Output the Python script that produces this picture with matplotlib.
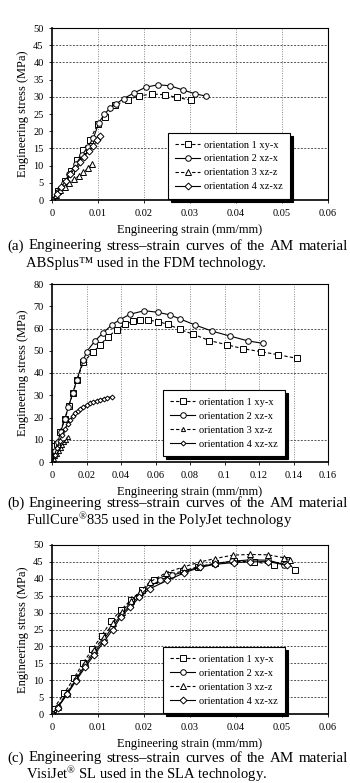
import matplotlib
matplotlib.use("Agg")
import matplotlib.pyplot as plt
from matplotlib.ticker import FormatStrFormatter

plt.rcParams["font.family"] = ["Liberation Serif", "DejaVu Serif"]
plt.rcParams["mathtext.fontset"] = "custom"
plt.rcParams["mathtext.rm"] = "Liberation Serif"
plt.rcParams["mathtext.it"] = "Liberation Serif"

LABELS = ["orientation 1 xy-x", "orientation 2 xz-x",
          "orientation 3 xz-z", "orientation 4 xz-xz"]

# (a) ABSplus, FDM
A_STRAIN_1 = [0, 0.0012, 0.0028, 0.0042, 0.0055, 0.0068, 0.0082, 0.0100, 0.0115,
              0.0138, 0.0165, 0.0190, 0.0218, 0.0245, 0.0272, 0.0303]
A_STRESS_1 = [0, 2.5, 5.5, 8.5, 11.5, 14.5, 17.5, 22.0, 24.0, 27.6, 29.2, 30.3,
              30.8, 30.6, 29.8, 29.0]
A_STRAIN_2 = [0, 0.0012, 0.0025, 0.0038, 0.0052, 0.0065, 0.0078, 0.0090, 0.0102,
              0.0114, 0.0127, 0.0140, 0.0156, 0.0178, 0.0204, 0.0231, 0.0257,
              0.0284, 0.0311, 0.0334]
A_STRESS_2 = [0, 2.3, 4.8, 7.5, 10.5, 13.0, 15.5, 18.0, 22.5, 25.0, 26.8, 28.0,
              29.5, 31.1, 32.8, 33.5, 33.2, 32.0, 30.9, 30.2]
A_STRAIN_3 = [0, 0.0008, 0.0018, 0.0028, 0.0038, 0.0048, 0.0058, 0.0068, 0.0078, 0.0087]
A_STRESS_3 = [0, 1.5, 2.8, 3.9, 5.0, 6.0, 7.0, 8.0, 9.2, 10.5]
A_STRAIN_4 = [0, 0.001, 0.002, 0.003, 0.004, 0.005, 0.006, 0.007, 0.008, 0.009,
              0.0098, 0.0105]
A_STRESS_4 = [0, 1.8, 3.8, 5.6, 7.5, 9.2, 11.0, 12.6, 14.3, 15.8, 17.3, 18.6]

# (b) FullCure 835, PolyJet
B_STRAIN_1 = [0, 0.0008, 0.0028, 0.0046, 0.0075, 0.0097, 0.0120, 0.0145, 0.0182,
              0.0240, 0.0278, 0.0326, 0.0375, 0.0423, 0.0468, 0.0510, 0.0555,
              0.0616, 0.0674, 0.0742, 0.0819, 0.0912, 0.1013, 0.1109, 0.1210,
              0.1312, 0.1418]
B_STRESS_1 = [0, 7.0, 8.0, 13.5, 19.5, 25.0, 30.8, 36.8, 45.0, 49.5, 52.6, 56.3,
              59.5, 61.8, 63.2, 64.0, 63.8, 63.1, 61.8, 59.6, 57.4, 54.6, 52.7,
              50.9, 49.6, 48.2, 46.6]
B_STRAIN_2 = [0, 0.0015, 0.0035, 0.0050, 0.0075, 0.0095, 0.0120, 0.0143, 0.0182,
              0.0200, 0.0250, 0.0297, 0.0346, 0.0394, 0.0452, 0.0535, 0.0613,
              0.0684, 0.0742, 0.0829, 0.0929, 0.1032, 0.1138, 0.1225]
B_STRESS_2 = [0, 5.0, 9.0, 13.5, 19.5, 24.8, 30.8, 36.8, 45.8, 49.5, 54.5, 58.1,
              61.6, 64.0, 66.4, 68.0, 67.3, 66.1, 64.3, 61.6, 58.8, 56.6, 54.4, 53.3]
B_STRAIN_3 = [0, 0.001, 0.002, 0.003, 0.004, 0.005, 0.006, 0.007, 0.008, 0.009]
B_STRESS_3 = [0, 1.2, 2.5, 3.8, 5.0, 6.3, 7.6, 8.8, 10.0, 11.3]
B_STRAIN_4 = [0, 0.0015, 0.003, 0.0045, 0.006, 0.0075, 0.009, 0.0105, 0.012,
              0.0135, 0.015, 0.0165, 0.018, 0.020, 0.022, 0.024, 0.026, 0.028,
              0.030, 0.032, 0.0345]
B_STRESS_4 = [0, 3.2, 6.5, 9.5, 12.3, 14.8, 17.0, 18.9, 20.5, 21.9, 23.0, 23.9,
              24.7, 25.5, 26.3, 27.0, 27.5, 28.0, 28.5, 28.9, 29.3]

# (c) VisiJet SL, SLA
C_STRAIN_1 = [0, 0.0003, 0.0027, 0.0048, 0.0068, 0.0088, 0.0108, 0.0128, 0.0150,
              0.0172, 0.0195, 0.0222, 0.0252, 0.0285, 0.0318, 0.0355, 0.0395,
              0.0440, 0.0483, 0.0508, 0.0528]
C_STRESS_1 = [0, 1.5, 6.2, 10.7, 15.2, 19.2, 23.2, 27.4, 30.8, 33.8, 36.7, 39.7,
              41.2, 42.3, 43.6, 44.6, 45.2, 45.0, 44.2, 45.5, 42.6]
C_STRAIN_2 = [0, 0.0012, 0.0033, 0.0052, 0.0072, 0.0092, 0.0110, 0.0130, 0.0150,
              0.0170, 0.0190, 0.0210, 0.0235, 0.0260, 0.0290, 0.0320, 0.0355,
              0.0392, 0.0430, 0.0470, 0.0505]
C_STRESS_2 = [0, 2.0, 6.0, 10.2, 14.4, 18.2, 21.5, 25.5, 29.3, 32.2, 35.0, 37.5,
              39.6, 41.0, 42.2, 43.5, 44.5, 45.2, 45.6, 45.5, 44.2]
C_STRAIN_3 = [0, 0.0012, 0.0033, 0.0052, 0.0072, 0.0092, 0.0112, 0.0132, 0.0152,
              0.0172, 0.0192, 0.0212, 0.0248, 0.0288, 0.0322, 0.0355, 0.0393,
              0.0430, 0.0470, 0.0505, 0.0518]
C_STRESS_3 = [0, 2.2, 6.3, 10.7, 15.0, 19.0, 22.8, 26.8, 30.3, 33.4, 36.2, 39.0,
              41.8, 43.6, 45.0, 46.0, 47.0, 47.2, 47.1, 46.2, 45.5]
C_STRAIN_4 = [0, 0.0012, 0.0033, 0.0052, 0.0072, 0.0092, 0.0112, 0.0132, 0.0150,
              0.0170, 0.0190, 0.0212, 0.0250, 0.0288, 0.0322, 0.0355, 0.0395,
              0.0430, 0.0470, 0.0510]
C_STRESS_4 = [0, 1.8, 5.8, 9.8, 13.8, 17.6, 21.2, 25.0, 28.8, 31.6, 34.5, 37.0,
              39.5, 41.8, 43.4, 44.3, 44.8, 45.0, 45.1, 44.0]

STYLES = [dict(ls=(0, (3, 2)), marker="s"),
          dict(ls="-", marker="o"),
          dict(ls=(0, (3, 2)), marker="^"),
          dict(ls="-", marker="D")]

W, H = 350, 783
fig = plt.figure(figsize=(W / 100, H / 100), dpi=100)


def px_axes(left, top, right, bottom):
    return fig.add_axes([left / W, 1 - bottom / H, (right - left) / W, (bottom - top) / H])


def panel(ax, series, xmax, xstep, ymax, ystep, hgrid, msizes, legend_left, legend_top):
    for (x, y), st, ms, lab in zip(series, STYLES, msizes, LABELS):
        ax.plot(x, y, color="black", lw=0.8, ls=st["ls"], marker=st["marker"],
                ms=ms, mfc="white", mec="black", mew=0.7, label=lab)
    ax.set_xlim(0, xmax)
    ax.set_ylim(0, ymax)
    xt = [i * xstep for i in range(int(round(xmax / xstep)) + 1)]
    yt = [i * ystep for i in range(int(round(ymax / ystep)) + 1)]
    ax.set_xticks(xt)
    ax.set_yticks(yt)
    ax.xaxis.set_major_formatter(FormatStrFormatter("%g"))
    ax.yaxis.set_major_formatter(FormatStrFormatter("%g"))
    ax.tick_params(labelsize=7.5, length=2, width=0.6)
    ax.tick_params(axis="x", pad=4.5)
    ax.tick_params(axis="y", pad=4)
    for xv in xt[1:-1]:
        ax.axvline(xv, color="#888888", lw=0.7, ls=(0, (1, 1.5)), zorder=0)
    for yv in hgrid:
        ax.axhline(yv, color="#555555", lw=0.7, ls=(0, (2, 1.5)), zorder=0)
    for s in ax.spines.values():
        s.set_linewidth(0.8)
    ax.spines["left"].set_linewidth(1.2)
    ax.spines["bottom"].set_linewidth(1.2)
    ax.set_xlabel("Engineering strain (mm/mm)", fontsize=9, labelpad=4)
    ax.set_ylabel("Engineering stress (MPa)", fontsize=9, labelpad=3)
    leg = ax.legend(loc="upper left", bbox_to_anchor=(legend_left, legend_top),
                    borderaxespad=0, fontsize=7.5, frameon=True, fancybox=False,
                    handlelength=2.4, labelspacing=0.45, borderpad=0.7,
                    handletextpad=0.35, shadow={"color": "black", "alpha": 1.0})
    leg.get_frame().set_edgecolor("black")
    leg.get_frame().set_linewidth(0.8)


def justified(text, x0, x1, y, fs):
    renderer = fig.canvas.get_renderer()
    words = text.split(" ")
    objs = [fig.text(0, 1 - y / H, w, fontsize=fs, va="center", ha="left") for w in words]
    widths = [o.get_window_extent(renderer).width for o in objs]
    gap = (x1 - x0 - sum(widths)) / (len(words) - 1)
    x = x0
    for o, w in zip(objs, widths):
        o.set_x(x / W)
        x += w + gap


ax_a = px_axes(52, 28, 328, 200)
panel(ax_a, [(A_STRAIN_1, A_STRESS_1), (A_STRAIN_2, A_STRESS_2),
             (A_STRAIN_3, A_STRESS_3), (A_STRAIN_4, A_STRESS_4)],
      0.06, 0.01, 50, 5, [15, 30, 40, 45], [4, 4, 4, 3.5], 0.420, 0.390)

ax_b = px_axes(52, 284, 328, 462)
panel(ax_b, [(B_STRAIN_1, B_STRESS_1), (B_STRAIN_2, B_STRESS_2),
             (B_STRAIN_3, B_STRESS_3), (B_STRAIN_4, B_STRESS_4)],
      0.16, 0.02, 80, 10, [10, 40, 60], [4, 4, 3, 2.5], 0.402, 0.404)

ax_c = px_axes(52, 545, 328, 714)
panel(ax_c, [(C_STRAIN_1, C_STRESS_1), (C_STRAIN_2, C_STRESS_2),
             (C_STRAIN_3, C_STRESS_3), (C_STRAIN_4, C_STRESS_4)],
      0.06, 0.01, 50, 5, [5, 10, 15, 20, 25, 30, 35, 40, 45], [4, 4, 4, 3.5], 0.402, 0.396)

CAPTIONS = [
    ("(a) Engineering stress\u2013strain curves of the AM material",
     "ABSplus\u2122 used in the FDM technology.", 246, 263),
    ("(b) Engineering stress\u2013strain curves of the AM material",
     "FullCure$^{\u00ae}$835 used in the PolyJet technology", 503, 520),
    ("(c) Engineering stress\u2013strain curves of the AM material",
     "VisiJet$^{\u00ae}$ SL used in the SLA technology.", 758, 774),
]
for line1, line2, y1, y2 in CAPTIONS:
    justified(line1, 7, 348, y1, 10.8)
    fig.text(26 / W, 1 - y2 / H, line2, fontsize=10.5, va="center", ha="left")

fig.savefig("out.png", dpi=100)
